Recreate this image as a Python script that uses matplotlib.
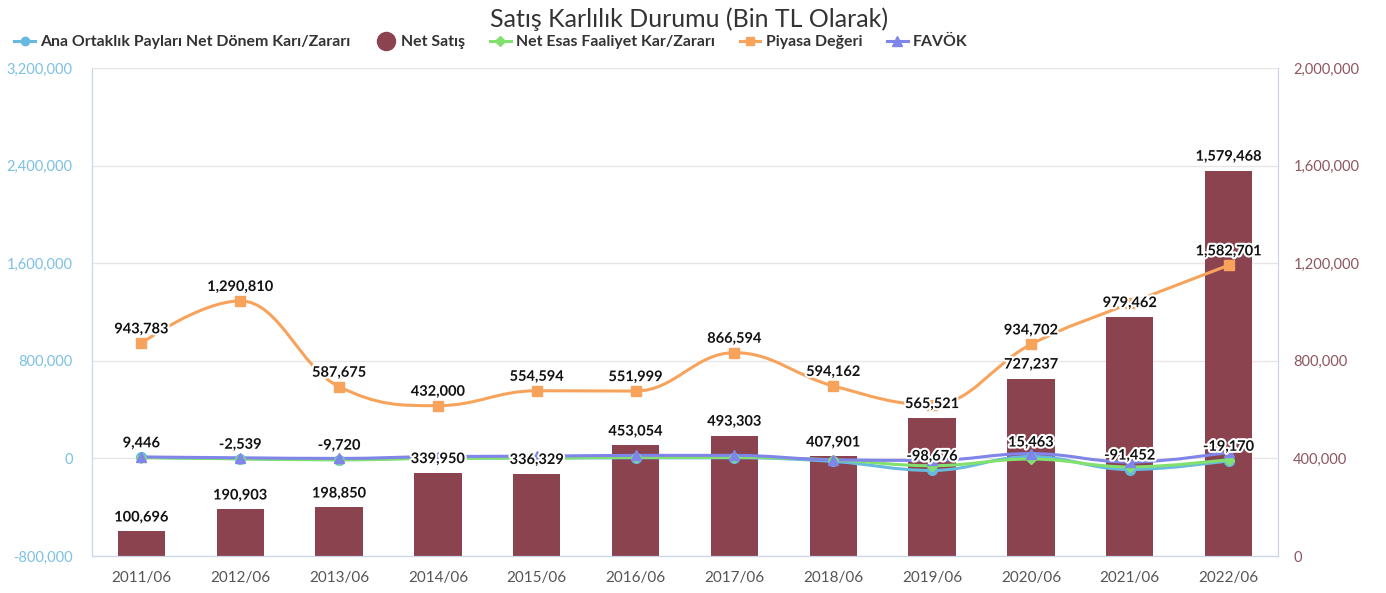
import matplotlib
matplotlib.use("Agg")
import numpy as np
import matplotlib.pyplot as plt
from matplotlib.path import Path
from matplotlib.patches import PathPatch
from matplotlib.lines import Line2D
from matplotlib.ticker import FuncFormatter
import matplotlib.patheffects as pe

plt.rcParams['font.family'] = ['Lato', 'DejaVu Sans']

# --- data (Bin TL) ---
periods = ["2011/06", "2012/06", "2013/06", "2014/06", "2015/06", "2016/06",
           "2017/06", "2018/06", "2019/06", "2020/06", "2021/06", "2022/06"]
ana_ortaklik = [9446, -2539, -9720, 2000, 3000, 5000, 5000, -25000, -98676, 15463, -91452, -19170]
net_satis = [100696, 190903, 198850, 339950, 336329, 453054, 493303, 407901,
             565521, 727237, 979462, 1579468]
net_esas = [6000, -4000, -12000, 0, 2000, 8000, 8000, -12000, -60000, -5000, -70000, -10000]
piyasa = [943783, 1290810, 587675, 432000, 554594, 551999, 866594, 594162,
          440000, 934702, 1270000, 1582701]
favok = [12000, 5000, 0, 15000, 18000, 25000, 25000, -12000, -16000, 40000, -30000, 50000]

# which point labels are visible in the original (others hidden by overlap)
ana_label_idx = [0, 1, 2, 8, 9, 10, 11]
piyasa_label_idx = [0, 1, 2, 3, 4, 5, 6, 7, 9, 11]

C_BLUE = '#68b9df'
C_BAR = '#8b434f'
C_GREEN = '#82e06f'
C_ORANGE = '#f7a35c'
C_PURPLE = '#8085e9'


def spline_path(xs, ys, smoothing=1.5):
    """Bezier path through the points, same control points as a highcharts spline"""
    n = len(xs)
    den = smoothing + 1
    lc = [None] * n
    rc = [None] * n
    for i in range(1, n - 1):
        px, py = xs[i], ys[i]
        lx, ly = xs[i - 1], ys[i - 1]
        nx, ny = xs[i + 1], ys[i + 1]
        lcx, lcy = (smoothing * px + lx) / den, (smoothing * py + ly) / den
        rcx, rcy = (smoothing * px + nx) / den, (smoothing * py + ny) / den
        corr = (rcy - lcy) * (rcx - px) / (rcx - lcx) + py - rcy
        lcy += corr
        rcy += corr
        if lcy > ly and lcy > py:
            lcy = max(ly, py); rcy = 2 * py - lcy
        elif lcy < ly and lcy < py:
            lcy = min(ly, py); rcy = 2 * py - lcy
        if rcy > ny and rcy > py:
            rcy = max(ny, py); lcy = 2 * py - rcy
        elif rcy < ny and rcy < py:
            rcy = min(ny, py); lcy = 2 * py - rcy
        lc[i] = (lcx, lcy)
        rc[i] = (rcx, rcy)
    verts = [(xs[0], ys[0])]
    codes = [Path.MOVETO]
    for i in range(1, n):
        c1 = rc[i - 1] or (xs[i - 1], ys[i - 1])
        c2 = lc[i] or (xs[i], ys[i])
        verts += [c1, c2, (xs[i], ys[i])]
        codes += [Path.CURVE4] * 3
    return Path(verts, codes)


fig = plt.figure(figsize=(13.86, 5.93), dpi=100)
ax = fig.add_axes([92 / 1386, 37 / 593, 1186 / 1386, 488 / 593])
ax2 = ax.twinx()
ax.set_zorder(2)
ax2.set_zorder(1)
ax.patch.set_visible(False)

x = np.arange(len(periods))
fmt = FuncFormatter(lambda v, p: f"{v:,.0f}")
outline = [pe.withStroke(linewidth=3, foreground='white')]

# bars on the right axis
ax2.bar(x, net_satis, width=0.48, color=C_BAR, zorder=2)
ax2.set_ylim(0, 2000000)
ax2.set_yticks(np.arange(0, 2000001, 400000))
ax2.yaxis.set_major_formatter(fmt)
ax2.grid(axis='y', color='#e6e6e6', lw=1)
ax2.set_axisbelow(True)

# lines on the left axis
series = [(ana_ortaklik, C_BLUE, 'o', 7), (net_esas, C_GREEN, 'D', 5),
          (piyasa, C_ORANGE, 's', 7), (favok, C_PURPLE, '^', 7)]
for vals, col, mk, ms in series:
    ax.add_patch(PathPatch(spline_path(list(x), vals), fill=False, ec=col, lw=2.2,
                           capstyle='round', joinstyle='round', zorder=3))
    ax.plot(x, vals, ls='none', marker=mk, ms=ms, color=col, mec=col, zorder=4)

ax.set_xlim(-0.5, len(periods) - 0.5)
ax.set_ylim(-800000, 3200000)
ax.set_yticks(np.arange(-800000, 3200001, 800000))
ax.yaxis.set_major_formatter(fmt)
ax.set_xticks(x)
ax.set_xticklabels(periods)

# data labels
lab_kw = dict(ha='center', va='bottom', fontsize=10.5, fontweight='bold', color='#111111',
              textcoords='offset points', xytext=(0, 5), zorder=10, path_effects=outline)
for i, v in enumerate(net_satis):
    ax.annotate(f"{v:,}", (x[i], v), xycoords=ax2.transData, **lab_kw)
for i in piyasa_label_idx:
    ax.annotate(f"{piyasa[i]:,}", (x[i], piyasa[i]), **lab_kw)
for i in ana_label_idx:
    ax.annotate(f"{ana_ortaklik[i]:,}", (x[i], ana_ortaklik[i]), **lab_kw)

# axis styling
for a in (ax, ax2):
    for s in a.spines.values():
        s.set_color('#ccd6eb')
    a.spines['top'].set_visible(False)
ax.tick_params(axis='y', length=0, pad=14, labelsize=10.5, labelcolor='#7cc0e6')
ax2.tick_params(axis='y', length=0, pad=11, labelsize=10.5, labelcolor='#8d5560')
ax.tick_params(axis='x', length=0, pad=11, labelsize=11, labelcolor='#555555')

fig.text(0.497, 1 - 19 / 593, "Satış Karlılık Durumu (Bin TL Olarak)", ha='center', va='center',
         fontsize=18, color='#333333')

handles = [
    Line2D([], [], color=C_BLUE, lw=2.2, marker='o', ms=6),
    Line2D([], [], color=C_BAR, lw=0, marker='o', ms=13),
    Line2D([], [], color=C_GREEN, lw=2.2, marker='D', ms=5),
    Line2D([], [], color=C_ORANGE, lw=2.2, marker='s', ms=6),
    Line2D([], [], color=C_PURPLE, lw=2.2, marker='^', ms=7),
]
names = ["Ana Ortaklık Payları Net Dönem Karı/Zararı", "Net Satış",
         "Net Esas Faaliyet Kar/Zararı", "Piyasa Değeri", "FAVÖK"]
fig.legend(handles, names, loc='center left', bbox_to_anchor=(0 / 1386, 1 - 42 / 593), ncol=5,
           frameon=False, handlelength=1.3, handletextpad=0.35, columnspacing=1.55,
           prop={'size': 11.4, 'weight': 'bold'}, labelcolor='#333333')

fig.savefig("out.png", dpi=100)
